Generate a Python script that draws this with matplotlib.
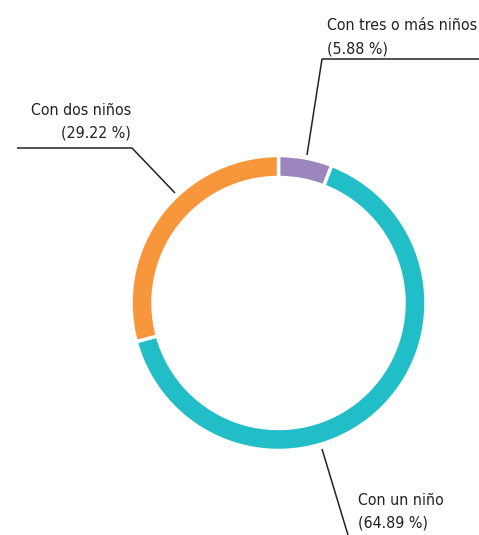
import matplotlib.pyplot as plt
from matplotlib import font_manager

labels = ['Con tres o más niños', 'Con un niño', 'Con dos niños']
shares = [5.88, 64.89, 29.22]
colors = ['#9b87bd', '#21bec7', '#f7963a']

# look for a narrow / condensed face, otherwise fall back to DejaVu Sans
font = None
for f in font_manager.fontManager.ttflist:
    nm = (f.name + ' ' + f.fname).lower()
    if f.style == 'normal' and f.weight in (400, 'normal', 'regular') and \
            ('condensed' in nm or 'narrow' in nm or str(f.stretch).endswith('condensed')):
        font = font_manager.FontProperties(fname=f.fname)
        break
if font is None:
    font = font_manager.FontProperties(family='DejaVu Sans')

W, H = 479, 535
fig = plt.figure(figsize=(W / 100, H / 100), dpi=100)
ax = fig.add_axes([0, 0, 1, 1])

cx, cy, r = 278.5, H - 303, 147.5
ax.pie(shares, colors=colors, startangle=90, counterclock=False,
       center=(cx, cy), radius=r,
       wedgeprops=dict(width=22, edgecolor='white', linewidth=2.5))
ax.set_xlim(0, W)
ax.set_ylim(0, H)
ax.set_aspect('auto')
ax.axis('off')

# leader lines (pixel coords, y from top)
leaders = [
    [(307, 155), (322, 59), (479, 59)],
    [(322, 449), (348, 535)],
    [(175, 193), (132, 148), (17, 148)],
]
for pts in leaders:
    ax.plot([p[0] for p in pts], [H - p[1] for p in pts],
            color='#222222', lw=1.1, solid_capstyle='butt')

txt = dict(fontsize=14, color='#222222', linespacing=1.7)
t1 = ax.text(327, H - 56, f'{labels[0]}\n({shares[0]:.2f} %)',
             ha='left', va='bottom', fontproperties=font, **txt)
t2 = ax.text(358, H - 531, f'{labels[1]}\n({shares[1]:.2f} %)',
             ha='left', va='bottom', fontproperties=font, **txt)
t3 = ax.text(131, H - 141, f'{labels[2]}\n({shares[2]:.2f} %)',
             ha='right', va='bottom', multialignment='right',
             fontproperties=font, **txt)

# fit the longest label to its width in the reference (~151 px)
fig.canvas.draw()
w = t1.get_window_extent().width
size = 14 * 152 / w
for t in (t1, t2, t3):
    t.set_fontsize(size)

fig.savefig('out.png', dpi=100)
